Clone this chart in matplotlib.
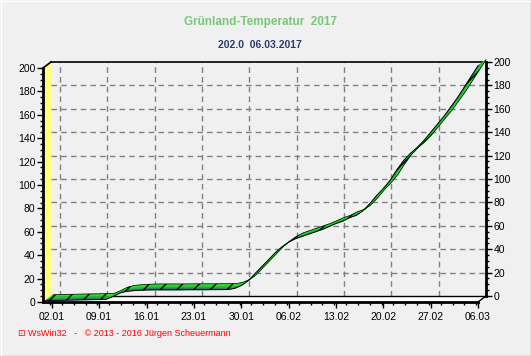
import numpy as np
import matplotlib.pyplot as plt
from matplotlib.collections import PolyCollection
from matplotlib.colors import to_rgb
from matplotlib.ticker import MultipleLocator, FixedLocator

plt.rcParams['font.family'] = ['Liberation Sans', 'DejaVu Sans']

# Daily values, 01.01.2017 .. 06.03.2017 (day 1 .. 65)
days = np.arange(1, 66)
temp_sum = [1.0, 1.2, 1.4, 1.5, 1.6, 1.7, 1.8, 1.9, 2.0, 2.2,
            4.5, 7.5, 9.0, 9.6, 10.0, 10.2, 10.3, 10.3, 10.3, 10.3,
            10.3, 10.4, 10.4, 10.4, 10.4, 10.5, 10.5, 10.6, 11.5, 14.0,
            18.0, 24.0, 30.0, 36.0, 42.0, 47.0, 51.0, 54.0, 56.0, 58.0,
            60.0, 62.0, 64.5, 67.0, 69.0, 72.0, 74.0, 78.0, 84.0, 91.0,
            97.0, 104.0, 113.0, 121.0, 127.0, 132.0, 138.0, 145.0, 152.0, 159.0,
            167.0, 175.0, 184.0, 193.0, 202.0]

tick_days = [2, 9, 16, 23, 30, 37, 44, 51, 58, 65]
tick_labels = ['02.01', '09.01', '16.01', '23.01', '30.01',
               '06.02', '13.02', '20.02', '27.02', '06.03']

W, H = 531, 356
fig = plt.figure(figsize=(W / 100, H / 100), dpi=100, facecolor='#f0f0f0')

# front plane of the 3D box (pixels)
fx0, fx1, fy0, fy1 = 43, 478, 302, 68
depth_x, depth_y = 8, 6
x_lo, x_hi = 0.7, 65.0
y_lo, y_hi = 0, 200

ax = fig.add_axes([fx0 / W, (H - fy0) / H, (fx1 - fx0) / W, (fy0 - fy1) / H])
ax.set_xlim(x_lo, x_hi)
ax.set_ylim(y_lo, y_hi)
ax.patch.set_visible(False)
for s in ax.spines.values():
    s.set_visible(False)

# depth offset in data units
DX = depth_x * (x_hi - x_lo) / (fx1 - fx0)
DY = depth_y * (y_hi - y_lo) / (fy0 - fy1)

# back axes only for the right hand scale
ax2 = fig.add_axes([(fx0 + depth_x) / W, (H - fy0 + depth_y) / H,
                    (fx1 - fx0) / W, (fy0 - fy1) / H], zorder=-1)
ax2.set_xlim(x_lo, x_hi)
ax2.set_ylim(y_lo, y_hi)
ax2.patch.set_visible(False)
for k in ['top', 'left', 'bottom']:
    ax2.spines[k].set_visible(False)
ax2.spines['right'].set_linewidth(2)
ax2.xaxis.set_visible(False)
ax2.yaxis.tick_right()
ax2.yaxis.set_major_locator(MultipleLocator(20))
ax2.yaxis.set_minor_locator(MultipleLocator(5))
ax2.tick_params(axis='y', which='major', length=4, width=1, pad=1.5, labelsize=7.5)
ax2.tick_params(axis='y', which='minor', length=2, width=1)

# back wall grid
bx0, bx1 = x_lo + DX, x_hi + DX
for v in range(20, 200, 20):
    ax.plot([bx0, bx1], [v + DY, v + DY], color='#808080', lw=1,
            ls=(0, (4, 3)), clip_on=False, zorder=1)
for d in tick_days[:-1]:
    ax.plot([d + DX, d + DX], [DY, y_hi + DY], color='#808080', lw=1,
            ls=(0, (4, 3)), clip_on=False, zorder=1)
ax.plot([bx0, bx1], [y_hi + DY, y_hi + DY], color='black', lw=1.2,
        clip_on=False, zorder=2)

# left wall (yellow)
ax.fill([x_lo, bx0, bx0, x_lo], [0, DY, y_hi + DY, y_hi], color='#ffff80',
        clip_on=False, zorder=2, lw=0)
ax.plot([x_lo, bx0], [y_hi, y_hi + DY], color='black', lw=1.2, clip_on=False, zorder=2)

# floor
ax.fill([x_lo, x_hi, bx1, bx0], [0, 0, DY, DY], color='white', clip_on=False,
        zorder=2, lw=0)
ax.plot([bx0, bx1], [DY, DY], color='black', lw=1, clip_on=False, zorder=2)
ax.plot([x_hi, bx1], [0, DY], color='black', lw=1, clip_on=False, zorder=2)

# ribbon of the 3D line (gradient dark blue -> green, black hatch)
x = np.asarray(days, dtype=float)
y = np.asarray(temp_sum)
strip_cols = ['#2c3f86', '#1f7a5a', '#1fa63a', '#22c22a', '#26d82a', '#2be02e']
n_strip = len(strip_cols)
for k, c in enumerate(strip_cols):
    t0, t1 = k / n_strip, (k + 1) / n_strip
    quads = []
    for i in range(len(x) - 1):
        quads.append([(x[i] + t0 * DX, y[i] + t0 * DY),
                      (x[i + 1] + t0 * DX, y[i + 1] + t0 * DY),
                      (x[i + 1] + t1 * DX, y[i + 1] + t1 * DY),
                      (x[i] + t1 * DX, y[i] + t1 * DY)])
    pc = PolyCollection(quads, facecolors=c, edgecolors=c, linewidths=0.3,
                        clip_on=False, zorder=3)
    ax.add_collection(pc)
quads = []
for i in range(len(x) - 1):
    quads.append([(x[i], y[i]), (x[i + 1], y[i + 1]),
                  (x[i + 1] + DX, y[i + 1] + DY), (x[i] + DX, y[i] + DY)])
ax.add_collection(PolyCollection(quads, facecolors='none', edgecolors='black',
                                 linewidths=0, hatch='//', clip_on=False, zorder=4))
ax.plot(x, y, color='black', lw=0.6, clip_on=False, zorder=5)
ax.plot(x + DX, y + DY, color='black', lw=0.5, clip_on=False, zorder=5)

# front axes lines
ax.plot([x_lo, x_lo], [0, y_hi], color='black', lw=2, clip_on=False, zorder=6)
ax.plot([x_lo, x_hi], [0, 0], color='black', lw=2, clip_on=False, zorder=6)

ax.yaxis.set_major_locator(MultipleLocator(20))
ax.yaxis.set_minor_locator(MultipleLocator(5))
ax.xaxis.set_major_locator(FixedLocator(tick_days))
ax.xaxis.set_minor_locator(MultipleLocator(7 / 4))
ax.set_xticklabels(tick_labels)
ax.tick_params(axis='both', which='major', length=4, width=1, labelsize=7.5)
ax.tick_params(axis='y', which='major', pad=1.5)
ax.tick_params(axis='x', which='major', pad=3)
ax.tick_params(axis='both', which='minor', length=2, width=1)

# titles and footer
fig.text(260 / W, 1 - 22 / H, 'Grünland-Temperatur  2017', color='#78c878',
         fontsize=8.5, fontweight='bold', ha='center', va='center')
fig.text(260 / W, 1 - 45 / H, '202.0  06.03.2017', color='#2a3c6c',
         fontsize=7.5, fontweight='bold', ha='center', va='center')
fig.text(18 / W, 1 - 334 / H, '⊡ WsWin32   -   © 2013 - 2016 Jürgen Scheuermann',
         color='red', fontsize=6.5, ha='left', va='center')

# window frame
fig.add_artist(plt.Line2D([0, 1], [0.5 / H, 0.5 / H], color='#a0a0a0', lw=1))
fig.add_artist(plt.Line2D([1 - 0.5 / W, 1 - 0.5 / W], [0, 1], color='#a0a0a0', lw=1))
fig.add_artist(plt.Line2D([0, 1], [1 - 0.5 / H, 1 - 0.5 / H], color='white', lw=1))
fig.add_artist(plt.Line2D([0.5 / W, 0.5 / W], [0, 1], color='white', lw=1))

fig.savefig('out.png', dpi=100, facecolor=fig.get_facecolor())
